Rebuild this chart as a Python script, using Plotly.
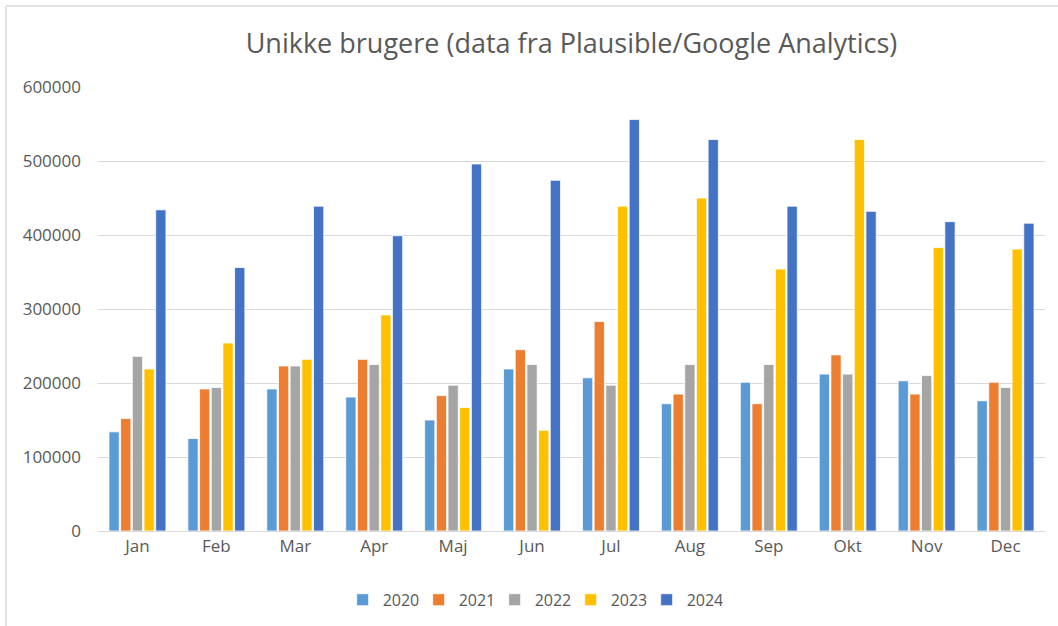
import plotly.graph_objects as go

months = ["Jan", "Feb", "Mar", "Apr", "Maj", "Jun", "Jul", "Aug", "Sep", "Okt", "Nov", "Dec"]
years = ["2020", "2021", "2022", "2023", "2024"]
v2020 = [134000, 125000, 192000, 181000, 150000, 219000, 207000, 172000, 201000, 212000, 203000, 176000]
v2021 = [152000, 192000, 223000, 232000, 183000, 245000, 283000, 185000, 172000, 238000, 185000, 201000]
v2022 = [236000, 194000, 223000, 225000, 197000, 225000, 197000, 225000, 225000, 212000, 210000, 194000]
v2023 = [219000, 254000, 232000, 292000, 167000, 136000, 439000, 450000, 354000, 529000, 383000, 381000]
v2024 = [434000, 356000, 439000, 399000, 496000, 474000, 556000, 529000, 439000, 432000, 418000, 416000]
series = [v2020, v2021, v2022, v2023, v2024]
colors = ["#5B9BD5", "#ED7D31", "#A5A5A5", "#FFC000", "#4472C4"]
tickvals = [0, 100000, 200000, 300000, 400000, 500000, 600000]

FONT = "Open Sans"
TXT = "#595959"

fig = go.Figure()
for name, vals, c in zip(years, series, colors):
    fig.add_trace(go.Bar(name=name, x=months, y=vals, marker=dict(color=c, line=dict(color="white", width=0.8))))

fig.update_layout(
    width=1058, height=626,
    margin=dict(l=98, r=13, t=87, b=95, autoexpand=False),
    paper_bgcolor="white", plot_bgcolor="white",
    barmode="group", bargap=0.26, bargroupgap=0.12,
    title=dict(text="Unikke brugere (data fra Plausible/Google Analytics)",
               x=0.5, xref="paper", xanchor="center", y=0.931, yref="container", yanchor="middle",
               font=dict(family=FONT, size=27, color=TXT)),
    font=dict(family=FONT, color=TXT),
    showlegend=True,
    legend=dict(orientation="h", x=0.459, xanchor="center", y=-0.155, yanchor="middle",
                font=dict(family=FONT, size=16, color=TXT), itemwidth=30, traceorder="normal",
                entrywidth=31, entrywidthmode="pixels"),
    xaxis=dict(showgrid=False, showline=True, linecolor="#D9D9D9", linewidth=1, automargin=False,
               ticks="", tickfont=dict(family=FONT, size=17, color=TXT)),
    yaxis=dict(range=[0, 600000], tickvals=tickvals, tickformat="d", automargin=False,
               showgrid=True, gridcolor="#D9D9D9", gridwidth=1, zeroline=False,
               showline=False, ticks="", ticklabelstandoff=16,
               tickfont=dict(family=FONT, size=17, color=TXT)),
    shapes=[
        dict(type="line", xref="paper", yref="paper", x0=-0.0971, x1=-0.0971, y0=-0.3, y1=1.1824,
             line=dict(color="#D9D9D9", width=1.5)),
        dict(type="line", xref="paper", yref="paper", x0=-0.0971, x1=1.02, y0=1.1824, y1=1.1824,
             line=dict(color="#D9D9D9", width=1.5)),
    ],
)

fig.write_html("out.html", config={"displayModeBar": False},
               post_script="document.body.style.margin='0';document.body.style.padding='0';")
